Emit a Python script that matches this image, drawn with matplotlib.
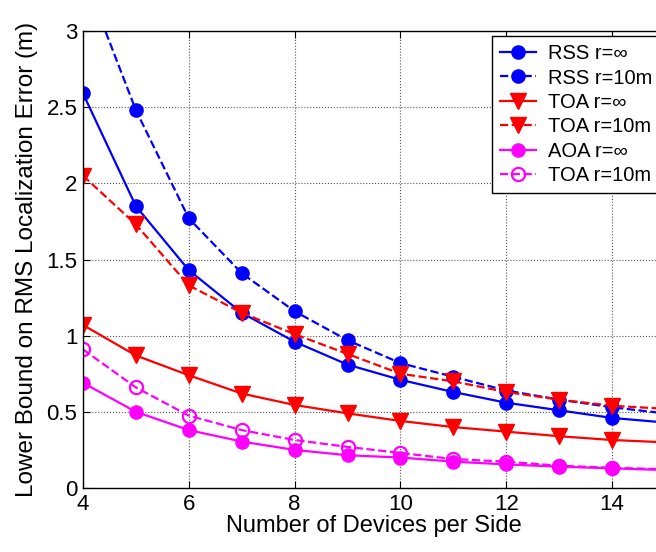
import numpy as np
import matplotlib
matplotlib.use('Agg')
import matplotlib.pyplot as plt
from matplotlib.ticker import FuncFormatter

plt.rcParams['font.family'] = ['Liberation Sans', 'DejaVu Sans']

devices = [4, 5, 6, 7, 8, 9, 10, 11, 12, 13, 14, 15]

rss_inf = [2.59, 1.85, 1.43, 1.15, 0.96, 0.81, 0.71, 0.63, 0.56, 0.51, 0.46, 0.43]
rss_10 = [3.38, 2.48, 1.77, 1.41, 1.16, 0.97, 0.82, 0.73, 0.64, 0.58, 0.53, 0.49]
toa_inf = [1.07, 0.87, 0.74, 0.62, 0.545, 0.49, 0.44, 0.40, 0.37, 0.34, 0.315, 0.30]
toa_10 = [2.05, 1.73, 1.33, 1.15, 1.01, 0.88, 0.75, 0.70, 0.63, 0.58, 0.54, 0.52]
aoa_inf = [0.69, 0.50, 0.38, 0.305, 0.25, 0.215, 0.20, 0.173, 0.155, 0.14, 0.129, 0.118]
aoa_10 = [0.91, 0.66, 0.475, 0.38, 0.315, 0.27, 0.23, 0.19, 0.173, 0.146, 0.133, 0.123]

labels = ['RSS r=\u221e', 'RSS r=10m', 'TOA r=\u221e', 'TOA r=10m', 'AOA r=\u221e', 'TOA r=10m']

fig = plt.figure(figsize=(6.56, 5.52), dpi=100)
# axes run a bit past the right edge, as in the cropped original
ax = fig.add_axes([83 / 656, 1 - 488 / 552, (665 - 83) / 656, (488 - 31) / 552])

lw = 1.6
ax.plot(devices, rss_inf, '-', color='#0000ff', marker='o', ms=9.5, lw=lw, label=labels[0])
ax.plot(devices, rss_10, '--', color='#0000ff', marker='o', ms=9.5, lw=lw, label=labels[1])
ax.plot(devices, toa_inf, '-', color='#ff0000', marker='v', ms=11, lw=lw, label=labels[2])
ax.plot(devices, toa_10, '--', color='#ff0000', marker='v', ms=11, lw=lw, label=labels[3])
ax.plot(devices, aoa_inf, '-', color='#ff00ff', marker='o', ms=9.5, lw=lw, label=labels[4])
ax.plot(devices, aoa_10, '--', color='#ff00ff', marker='o', ms=9.5, lw=lw, mfc='none', mew=1.6,
        label=labels[5])

ax.set_xlim(4, 15)
ax.set_ylim(0, 3)
ax.set_xticks([4, 6, 8, 10, 12, 14])
ax.set_yticks([0, 0.5, 1, 1.5, 2, 2.5, 3])
ax.yaxis.set_major_formatter(FuncFormatter(lambda v, p: '%g' % v))
ax.grid(True, linestyle=':', color='#555555', lw=0.8)
ax.tick_params(direction='in', top=True, right=True, labelsize=16, length=5, pad=4)
for s in ax.spines.values():
    s.set_linewidth(1.0)

ax.set_xlabel('Number of Devices per Side', fontsize=17, labelpad=0)
ax.set_ylabel('Lower Bound on RMS Localization Error (m)', fontsize=17.5, labelpad=6)

leg = ax.legend(loc='upper right', fontsize=14.5, fancybox=False, framealpha=1,
                edgecolor='black', handlelength=1.8, handletextpad=0.55,
                labelspacing=0.27, borderpad=0.4, borderaxespad=0.25)
leg.get_frame().set_linewidth(1.0)

fig.savefig('out.png', dpi=100)
